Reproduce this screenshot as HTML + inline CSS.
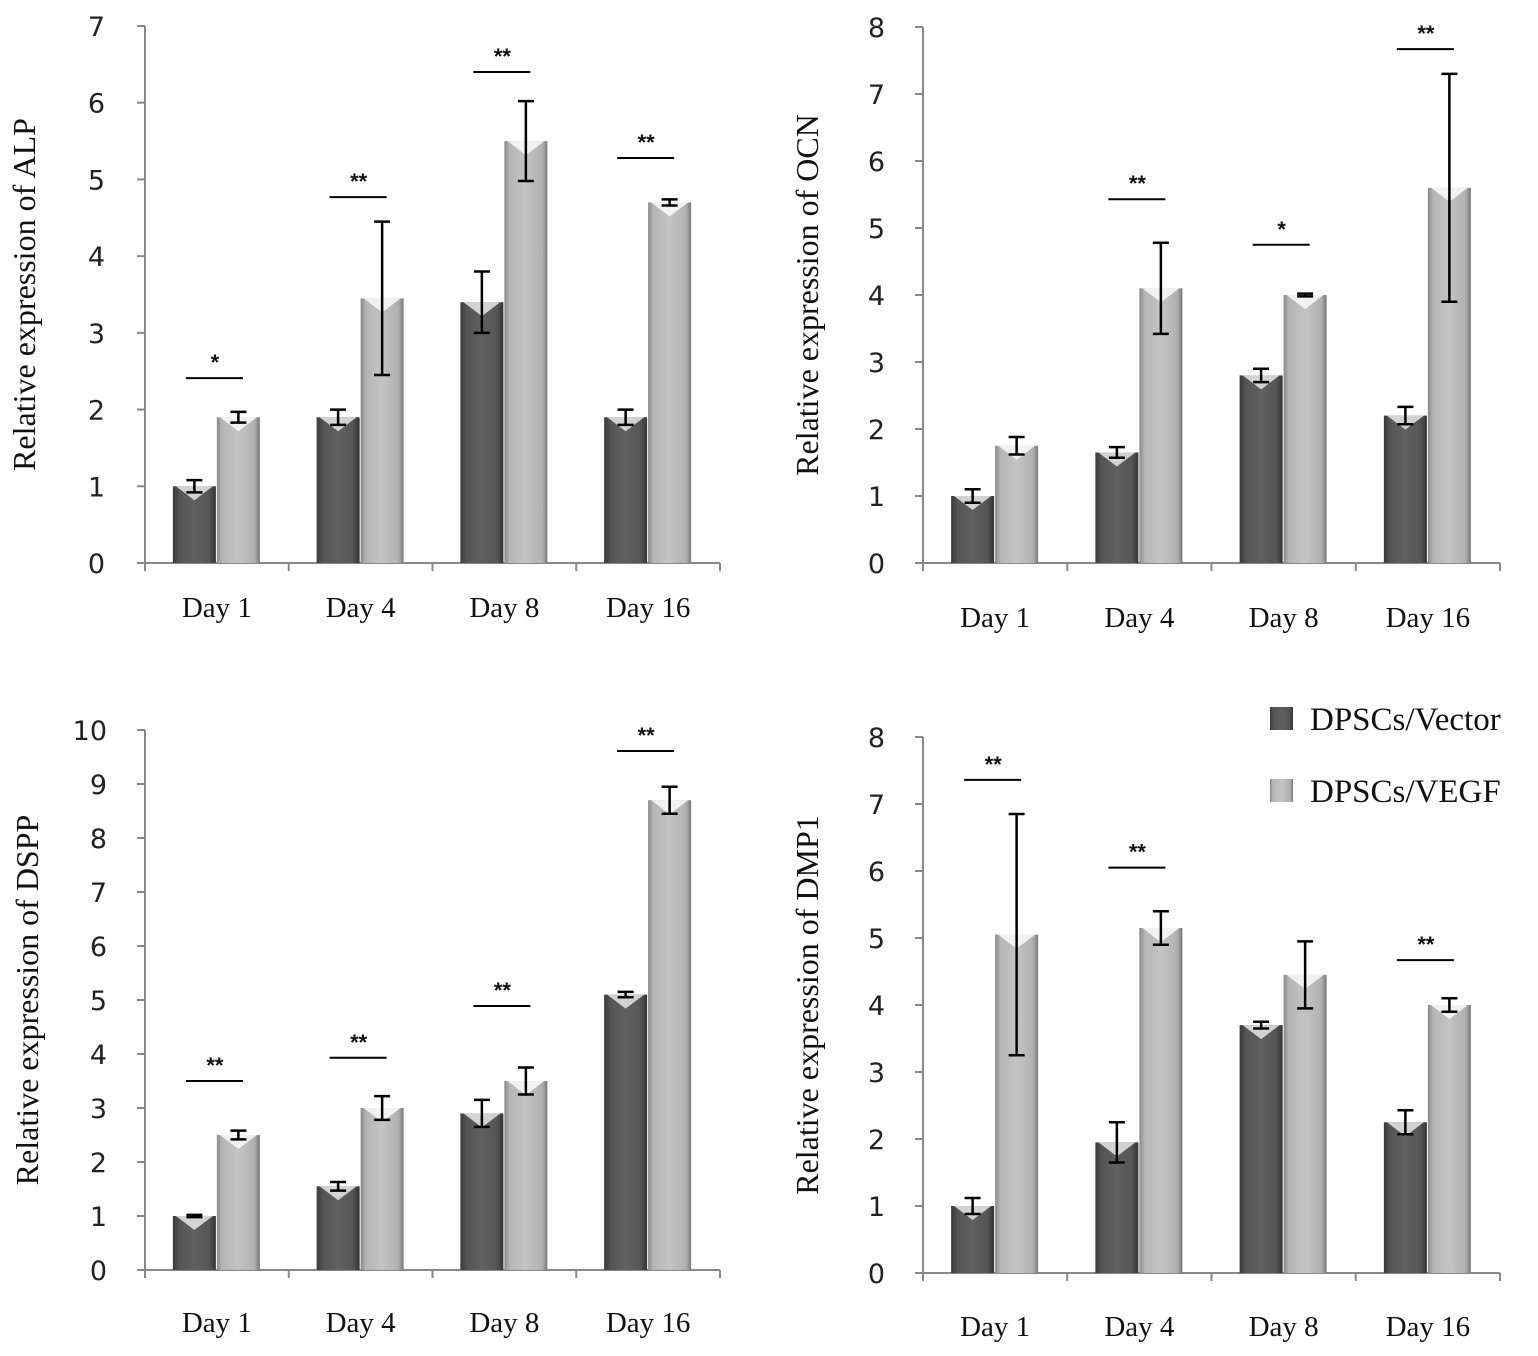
<!DOCTYPE html>
<html><head><meta charset="utf-8"><style>
html,body{margin:0;padding:0;background:#fff;}
svg{display:block;}
.tick{font-family:"DejaVu Sans","Liberation Sans",sans-serif;font-size:27px;fill:#222;}
.cat{font-family:"Liberation Serif",serif;font-size:29px;fill:#111;}
.ylab{font-family:"Liberation Serif",serif;font-size:32px;fill:#111;}
.leg{font-family:"Liberation Serif",serif;font-size:33px;fill:#111;}
.star{font-family:"Liberation Sans",sans-serif;font-size:22px;font-weight:bold;fill:#111;}
</style></head><body>
<svg id="chart" width="1538" height="1356" viewBox="0 0 1538 1356" xmlns="http://www.w3.org/2000/svg">
<defs>
<linearGradient id="gDark" x1="0" x2="1" y1="0" y2="0">
<stop offset="0" stop-color="#3a3a3a"/><stop offset="0.15" stop-color="#555"/><stop offset="0.5" stop-color="#606060"/><stop offset="0.85" stop-color="#555"/><stop offset="1" stop-color="#333"/></linearGradient>
<linearGradient id="gLight" x1="0" x2="1" y1="0" y2="0">
<stop offset="0" stop-color="#888"/><stop offset="0.12" stop-color="#b5b5b5"/><stop offset="0.5" stop-color="#c4c4c4"/><stop offset="0.88" stop-color="#b0b0b0"/><stop offset="1" stop-color="#777"/></linearGradient>
</defs>
<g>
<rect x="1270" y="707" width="23" height="23" fill="url(#gDark)"/>
<text x="1310" y="730" class="leg">DPSCs/Vector</text>
<rect x="1270" y="779" width="23" height="23" fill="url(#gLight)"/>
<text x="1310" y="802" class="leg">DPSCs/VEGF</text>
</g>
</svg>
<script>
const categories = ["Day 1","Day 4","Day 8","Day 16"];
const alpVector = [1.0,1.9,3.4,1.9];
const alpVectorErr = [0.08,0.1,0.4,0.1];
const alpVegf = [1.9,3.45,5.5,4.7];
const alpVegfErr = [0.07,1.0,0.52,0.04];
const alpSig = ["*","**","**","**"];
const alpSigY = [2.41,4.77,6.4,5.28];

const ocnVector = [1.0,1.65,2.8,2.2];
const ocnVectorErr = [0.1,0.08,0.1,0.13];
const ocnVegf = [1.75,4.1,4.0,5.6];
const ocnVegfErr = [0.13,0.68,0.02,1.7];
const ocnSig = ["","**","*","**"];
const ocnSigY = [0,5.43,4.75,7.67];

const dsppVector = [1.0,1.55,2.9,5.1];
const dsppVectorErr = [0.02,0.08,0.25,0.05];
const dsppVegf = [2.5,3.0,3.5,8.7];
const dsppVegfErr = [0.08,0.22,0.25,0.25];
const dsppSig = ["**","**","**","**"];
const dsppSigY = [3.5,3.93,4.89,9.61];

const dmpVector = [1.0,1.95,3.7,2.25];
const dmpVectorErr = [0.12,0.3,0.05,0.18];
const dmpVegf = [5.05,5.15,4.45,4.0];
const dmpVegfErr = [1.8,0.25,0.5,0.1];
const dmpSig = ["**","**","","**"];
const dmpSigY = [7.36,6.05,0,4.67];

const panels = [
 {name:"alp",label:"Relative expression of ALP",x0:145,x1:720,y0:563,ymax:7,ytop:26,labY:617,labX:25,tickX:105,v:alpVector,ve:alpVectorErr,g:alpVegf,ge:alpVegfErr,sig:alpSig,sy:alpSigY},
 {name:"ocn",label:"Relative expression of OCN",x0:923,x1:1500,y0:563,ymax:8,ytop:27,labY:627,labX:808,tickX:885,v:ocnVector,ve:ocnVectorErr,g:ocnVegf,ge:ocnVegfErr,sig:ocnSig,sy:ocnSigY},
 {name:"dspp",label:"Relative expression of DSPP",x0:145,x1:720,y0:1270,ymax:10,ytop:730,labY:1332,labX:28,tickX:107,v:dsppVector,ve:dsppVectorErr,g:dsppVegf,ge:dsppVegfErr,sig:dsppSig,sy:dsppSigY},
 {name:"dmp1",label:"Relative expression of DMP1",x0:923,x1:1500,y0:1273,ymax:8,ytop:737,labY:1336,labX:808,tickX:885,v:dmpVector,ve:dmpVectorErr,g:dmpVegf,ge:dmpVegfErr,sig:dmpSig,sy:dmpSigY}
];
const NS="http://www.w3.org/2000/svg";
const svg=document.getElementById('chart');
function mk(tag,attrs,parent){const e=document.createElementNS(NS,tag);for(const k in attrs)e.setAttribute(k,attrs[k]);(parent||svg).appendChild(e);return e;}
panels.forEach(p=>{
 const g=mk('g',{});
 
 
 const yS=v=>p.y0-(p.y0-p.ytop)*v/p.ymax;
 const bw=(p.x1-p.x0)/categories.length;
 const xC=i=>p.x0+bw*(i+0.5);
 const ya=mk('line',{x1:p.x0,y1:p.ytop,x2:p.x0,y2:p.y0+8,stroke:'#888','stroke-width':2},g);
 
 
 const xa=mk('line',{x1:p.x0-8,y1:p.y0,x2:p.x1,y2:p.y0,stroke:'#888','stroke-width':2},g);
 
 
 for(let t=0;t<=p.ymax;t++){
  mk('line',{x1:p.x0-8,y1:yS(t),x2:p.x0,y2:yS(t),stroke:'#888','stroke-width':2},g);
  const tx=mk('text',{x:p.tickX,y:yS(t)+10,'text-anchor':'end',class:'tick'},g);
  tx.textContent=t;
  
  
 }
 for(let i=0;i<=categories.length;i++){
  mk('line',{x1:p.x0+bw*i,y1:p.y0,x2:p.x0+bw*i,y2:p.y0+8,stroke:'#888','stroke-width':2},g);
 }
 const yl=mk('text',{x:0,y:0,transform:`translate(${p.labX+10},${(p.ytop+p.y0)/2}) rotate(-90)`,'text-anchor':'middle',class:'ylab'},g);
 yl.textContent=p.label;
 
 
 categories.forEach((c,i)=>{
  const cx=xC(i);
  const ct=mk('text',{x:cx,y:p.labY,'text-anchor':'middle',class:'cat'},g);
  ct.textContent=c;
  
  
  const w=43;
  [[p.v[i],p.ve[i],cx-w-1,'url(#gDark)','#e8e8e8','vector'],[p.g[i],p.ge[i],cx,'url(#gLight)','#fafafa','vegf']].forEach(b=>{
   const top=yS(b[0]);
   const r=mk('rect',{x:b[2],y:top,width:w,height:p.y0-top,fill:b[3]},g);
   
   
   mk('path',{d:`M${b[2]+3} ${top} L${b[2]+w-3} ${top} L${b[2]+w/2} ${top+14} Z`,fill:b[4],opacity:0.85},g);
   const e1=yS(b[0]+b[1]),e2=yS(b[0]-b[1]),ex=b[2]+w/2;
   const eb=mk('path',{d:`M${ex} ${e1} L${ex} ${e2} M${ex-8} ${e1} L${ex+8} ${e1} M${ex-8} ${e2} L${ex+8} ${e2}`,stroke:'#000','stroke-width':2.5,fill:'none'},g);
   
   
  });
  if(p.sig[i]){
   const sy=yS(p.sy[i]);
   mk('line',{x1:cx-31,y1:sy,x2:cx+26,y2:sy,stroke:'#000','stroke-width':2},g);
   const st=mk('text',{x:cx-2,y:sy-8,'text-anchor':'middle',class:'star'},g);
   st.textContent=p.sig[i];
   
   
  }
 });
});
</script>
</body></html>
